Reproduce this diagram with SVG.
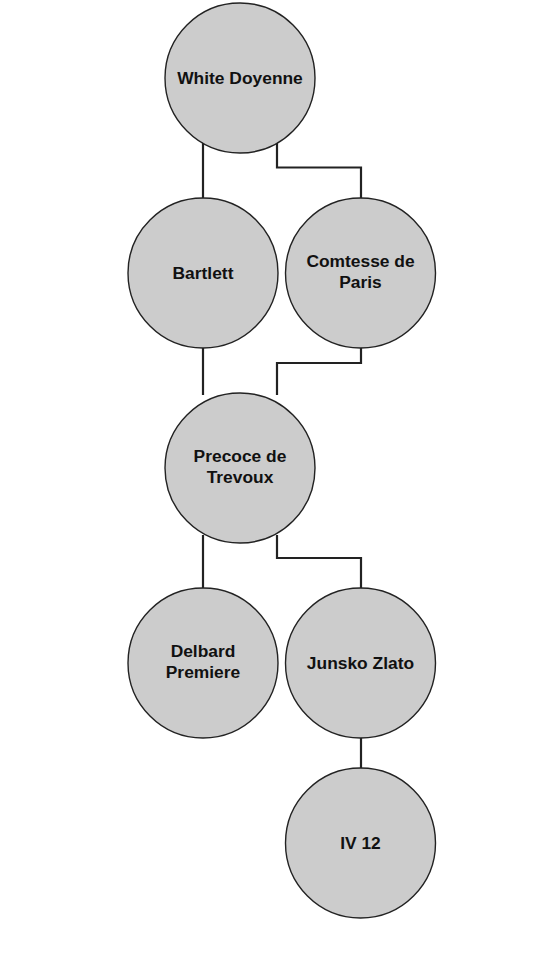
<svg xmlns="http://www.w3.org/2000/svg" width="547" height="964" viewBox="0 0 547 964">
<style>
.n circle{fill:#cccccc;stroke:#222;stroke-width:1.4}
.n text{font-family:"Liberation Sans",Arial,sans-serif;font-weight:bold;font-size:17.4px;fill:#111;text-anchor:middle}
#edges path{fill:none;stroke:#222;stroke-width:2.2}
</style>
<rect width="547" height="964" fill="#fff"/>
<g id="edges">
<path d="M203,140 V200"/>
<path d="M277,140 V167.5 H361 V200"/>
<path d="M203,345 V395"/>
<path d="M361,345 V363 H277 V395"/>
<path d="M203,535 V590"/>
<path d="M277,535 V558 H361 V590"/>
<path d="M361,735 V770"/>
</g>
<g id="white-doyenne" class="n"><circle cx="240" cy="78" r="75"/><text x="240" y="84">White Doyenne</text></g>
<g id="bartlett" class="n"><circle cx="203" cy="273" r="75"/><text x="203" y="279">Bartlett</text></g>
<g id="comtesse-de-paris" class="n"><circle cx="360.5" cy="273" r="75"/><text x="360.5" y="266.5">Comtesse de</text><text x="360.5" y="288.3">Paris</text></g>
<g id="precoce-de-trevoux" class="n"><circle cx="240" cy="468" r="75"/><text x="240" y="461.5">Precoce de</text><text x="240" y="483.3">Trevoux</text></g>
<g id="delbard-premiere" class="n"><circle cx="203" cy="663" r="75"/><text x="203" y="656.7">Delbard</text><text x="203" y="678.4">Premiere</text></g>
<g id="junsko-zlato" class="n"><circle cx="360.5" cy="663" r="75"/><text x="360.5" y="669">Junsko Zlato</text></g>
<g id="iv-12" class="n"><circle cx="360.5" cy="843" r="75"/><text x="360.5" y="849">IV 12</text></g>
</svg>
